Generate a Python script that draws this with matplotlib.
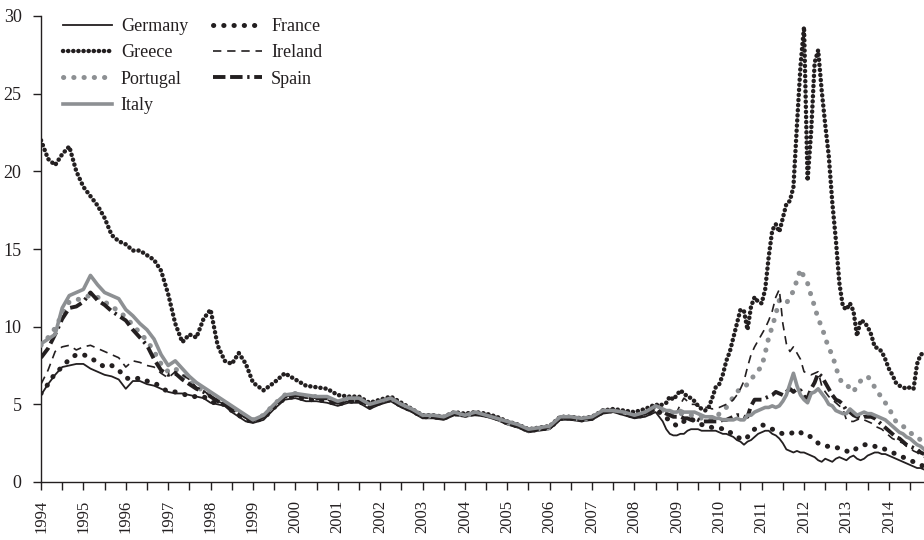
import numpy as np
import matplotlib
matplotlib.use('Agg')
import matplotlib.pyplot as plt
from matplotlib.ticker import MultipleLocator

# sample dates (decimal years): bimonthly 1994-1999, quarterly 1999-2008.5, monthly after
t_a = 1994 + np.arange(31) / 6.0
t_b = 1999.25 + np.arange(38) * 0.25
t_c = 2008.5 + np.arange(1, 77) / 12.0
years = np.concatenate([t_a, t_b, t_c])

# 10-year government bond yields, %
germany = [5.6, 6.3, 6.9, 7.4, 7.5, 7.6, 7.6, 7.3, 7.1, 6.9, 6.8, 6.6, 6.0, 6.5, 6.5, 6.3,
           6.2, 6.0, 5.8, 5.7, 5.7, 5.6, 5.5, 5.4, 5.1, 5.0, 4.9, 4.5, 4.2, 3.9, 3.8,
           4.0, 4.7, 5.3, 5.4, 5.2, 5.2, 5.1, 4.9, 5.1, 5.1, 4.7, 5.0, 5.2, 4.8, 4.5, 4.1,
           4.1, 4.0, 4.3, 4.2, 4.3, 4.2, 4.0, 3.7, 3.5, 3.2, 3.3, 3.4, 4.0, 4.0, 3.9, 4.0,
           4.4, 4.5, 4.3, 4.1, 4.2, 4.5,
           4.2, 3.9, 3.4, 3.1, 3.0, 3.0, 3.1, 3.1, 3.3, 3.4, 3.4, 3.4, 3.3, 3.3, 3.3, 3.3,
           3.3, 3.2, 3.1, 3.1, 3.0, 2.9, 2.7, 2.6, 2.4, 2.6, 2.7, 2.9, 3.1, 3.2, 3.3, 3.3,
           3.1, 3.0, 2.8, 2.5, 2.1, 2.0, 1.9, 2.0, 1.9, 1.9, 1.8, 1.7, 1.6, 1.4, 1.3, 1.5,
           1.4, 1.3, 1.5, 1.6, 1.5, 1.4, 1.6, 1.7, 1.5, 1.4, 1.5, 1.7, 1.8, 1.9, 1.9, 1.8,
           1.8, 1.7, 1.6, 1.5, 1.4, 1.3, 1.2, 1.1, 1.0, 0.9, 0.9, 0.8]

france = [5.7, 6.3, 7.0, 7.4, 7.9, 8.2, 8.2, 8.0, 7.7, 7.4, 7.5, 7.2, 6.7, 6.6, 6.7, 6.5,
          6.4, 6.1, 5.8, 5.8, 5.7, 5.5, 5.5, 5.5, 5.2, 5.0, 5.0, 4.6, 4.3, 4.0, 3.9,
          4.1, 4.8, 5.4, 5.5, 5.3, 5.3, 5.2, 5.0, 5.2, 5.2, 4.8, 5.1, 5.3, 4.9, 4.6, 4.2,
          4.2, 4.1, 4.4, 4.3, 4.4, 4.3, 4.1, 3.8, 3.6, 3.3, 3.4, 3.5, 4.1, 4.1, 4.0, 4.1,
          4.5, 4.6, 4.4, 4.2, 4.3, 4.6,
          4.5, 4.3, 4.1, 4.0, 3.8, 3.6, 3.8, 3.9, 4.0, 4.1, 3.9, 3.8, 3.7, 3.6, 3.6, 3.5,
          3.5, 3.5, 3.4, 3.4, 3.2, 3.1, 2.9, 2.8, 2.7, 2.9, 3.2, 3.4, 3.6, 3.7, 3.6, 3.5,
          3.4, 3.3, 3.2, 3.1, 3.1, 3.1, 3.2, 3.3, 3.2, 3.0, 3.0, 2.9, 2.7, 2.5, 2.4, 2.3,
          2.3, 2.3, 2.2, 2.2, 2.1, 2.0, 1.9, 2.0, 2.2, 2.3, 2.4, 2.4, 2.4, 2.3, 2.2, 2.2,
          2.1, 2.0, 1.9, 1.8, 1.7, 1.6, 1.5, 1.4, 1.3, 1.2, 1.1, 1.0]

greece = [22.0, 20.8, 20.4, 21.1, 21.6, 20.0, 19.0, 18.4, 17.8, 17.0, 15.9, 15.5, 15.3, 14.9,
          14.9, 14.6, 14.3, 13.6, 12.1, 10.2, 9.0, 9.5, 9.3, 10.5, 11.1, 8.8, 7.8, 7.6, 8.3,
          7.6, 6.4,
          5.9, 6.4, 7.0, 6.6, 6.2, 6.1, 6.0, 5.6, 5.5, 5.5, 5.1, 5.3, 5.5, 5.1, 4.7, 4.3,
          4.3, 4.2, 4.5, 4.4, 4.5, 4.4, 4.2, 3.9, 3.7, 3.4, 3.5, 3.6, 4.2, 4.2, 4.1, 4.2,
          4.6, 4.7, 4.6, 4.5, 4.7, 5.0,
          4.9, 5.0, 5.1, 5.5, 5.3, 5.6, 5.9, 5.7, 5.5, 5.4, 5.2, 4.9, 4.7, 4.6, 4.8, 5.4,
          6.1, 6.3, 6.9, 7.8, 8.4, 9.3, 10.2, 11.1, 11.0, 9.8, 11.3, 11.9, 11.6, 11.5, 12.4,
          14.5, 16.2, 16.6, 16.1, 17.0, 17.9, 18.1, 19.0, 23.0, 26.8, 29.3, 19.4, 22.5, 27.0,
          27.8, 25.2, 23.0, 21.0, 18.0, 15.6, 12.8, 11.3, 11.1, 11.5, 11.0, 9.4, 10.4, 10.3,
          10.0, 9.5, 8.7, 8.6, 8.4, 7.9, 7.3, 6.9, 6.4, 6.2, 6.1, 6.0, 6.1, 6.0, 7.6, 8.2, 8.3]

ireland = [6.3, 7.2, 8.4, 8.7, 8.8, 8.5, 8.7, 8.8, 8.6, 8.4, 8.2, 8.0, 7.4, 7.8, 7.7, 7.5,
           7.4, 7.0, 6.7, 7.1, 6.9, 6.6, 6.1, 5.9, 5.5, 5.2, 5.0, 4.6, 4.4, 4.1, 3.9,
           4.2, 4.9, 5.5, 5.6, 5.4, 5.4, 5.3, 5.0, 5.2, 5.2, 4.8, 5.1, 5.3, 4.9, 4.6, 4.2,
           4.2, 4.1, 4.4, 4.3, 4.4, 4.3, 4.1, 3.8, 3.6, 3.3, 3.4, 3.5, 4.1, 4.1, 4.0, 4.1,
           4.5, 4.6, 4.5, 4.3, 4.5, 4.8,
           4.8, 4.7, 4.6, 4.6, 4.5, 4.5, 5.0, 5.4, 5.2, 5.0, 5.0, 4.9, 4.8, 4.8, 4.8, 4.7,
           4.8, 4.8, 4.9, 5.0, 5.1, 5.3, 5.6, 6.0, 6.5, 7.4, 8.2, 8.7, 9.1, 9.5, 9.9, 10.4,
           11.0, 11.9, 12.4, 10.2, 8.9, 8.4, 8.7, 8.3, 7.9, 7.1, 7.0, 6.9, 7.0, 7.1, 6.2, 5.8,
           5.5, 5.3, 5.1, 4.9, 4.7, 4.0, 3.9, 3.9, 4.0, 4.1, 4.0, 3.9, 3.8, 3.6, 3.5, 3.4,
           3.2, 3.0, 2.8, 2.7, 2.6, 2.5, 2.3, 2.2, 2.0, 1.9, 1.7, 1.6]

portugal = [8.8, 9.3, 9.9, 10.8, 11.6, 11.7, 11.9, 12.0, 11.9, 11.6, 11.3, 11.0, 10.6, 10.1,
            9.6, 9.1, 8.4, 7.6, 7.1, 7.3, 6.9, 6.5, 6.1, 5.9, 5.6, 5.3, 5.1, 4.8, 4.5, 4.2,
            4.0,
            4.3, 5.0, 5.6, 5.7, 5.5, 5.5, 5.4, 5.1, 5.3, 5.3, 4.9, 5.2, 5.4, 5.0, 4.6, 4.3,
            4.2, 4.2, 4.4, 4.3, 4.4, 4.3, 4.1, 3.8, 3.6, 3.3, 3.4, 3.5, 4.1, 4.1, 4.0, 4.1,
            4.6, 4.6, 4.5, 4.3, 4.5, 4.8,
            4.7, 4.6, 4.5, 4.4, 4.3, 4.3, 4.4, 4.4, 4.3, 4.3, 4.3, 4.2, 4.1, 4.0, 4.0, 4.0,
            4.1, 4.4, 4.6, 4.8, 5.1, 5.5, 5.8, 6.0, 6.1, 6.3, 6.6, 6.9, 7.2, 7.4, 8.3, 9.3,
            10.0, 10.8, 11.7, 11.6, 11.5, 11.9, 12.3, 13.0, 13.7, 13.2, 12.8, 12.0, 11.3, 10.5,
            10.0, 9.3, 8.6, 8.2, 7.4, 6.7, 6.3, 6.2, 6.1, 5.8, 6.2, 6.5, 6.7, 6.8, 6.5, 6.1,
            5.7, 5.5, 5.1, 4.8, 4.3, 3.9, 3.8, 3.6, 3.4, 3.2, 3.0, 2.9, 2.7, 2.6]

spain = [8.0, 8.6, 9.5, 10.5, 11.2, 11.3, 11.6, 12.2, 11.7, 11.4, 11.0, 10.7, 10.4, 9.8,
         9.3, 8.8, 7.9, 7.2, 6.9, 7.0, 6.6, 6.3, 6.0, 5.8, 5.5, 5.2, 5.0, 4.7, 4.4, 4.2, 3.9,
         4.2, 4.9, 5.5, 5.6, 5.5, 5.4, 5.4, 5.1, 5.3, 5.3, 4.9, 5.1, 5.3, 4.9, 4.6, 4.2,
         4.2, 4.1, 4.4, 4.3, 4.4, 4.3, 4.1, 3.8, 3.6, 3.3, 3.4, 3.5, 4.1, 4.1, 4.0, 4.1,
         4.5, 4.6, 4.4, 4.2, 4.4, 4.7,
         4.6, 4.5, 4.4, 4.3, 4.2, 4.2, 4.2, 4.1, 4.1, 4.0, 4.1, 4.0, 3.9, 3.9, 3.9, 3.9,
         3.9, 3.9, 4.0, 4.0, 4.1, 4.2, 4.3, 4.3, 4.2, 4.2, 4.9, 5.3, 5.3, 5.3, 5.4, 5.5,
         5.6, 5.8, 5.7, 5.6, 5.8, 6.0, 5.8, 6.0, 5.9, 5.5, 5.4, 6.0, 6.4, 7.0, 6.8, 6.4,
         6.0, 5.6, 5.3, 5.2, 5.0, 4.6, 4.5, 4.3, 4.2, 4.1, 4.2, 4.2, 4.2, 4.1, 3.9, 3.7,
         3.5, 3.3, 3.1, 2.9, 2.8, 2.6, 2.4, 2.3, 2.2, 2.1, 1.9, 1.8]

italy = [8.9, 9.2, 9.5, 11.2, 12.0, 12.2, 12.4, 13.3, 12.7, 12.2, 12.0, 11.8, 11.1, 10.7,
         10.2, 9.8, 9.2, 8.2, 7.5, 7.8, 7.3, 6.8, 6.4, 6.1, 5.8, 5.5, 5.2, 4.9, 4.6, 4.3, 4.0,
         4.3, 5.0, 5.6, 5.7, 5.6, 5.5, 5.5, 5.2, 5.4, 5.4, 5.0, 5.2, 5.4, 5.0, 4.7, 4.3,
         4.3, 4.2, 4.5, 4.3, 4.5, 4.3, 4.1, 3.9, 3.7, 3.4, 3.5, 3.6, 4.2, 4.2, 4.1, 4.2,
         4.6, 4.6, 4.5, 4.3, 4.5, 4.9,
         4.8, 4.7, 4.6, 4.6, 4.5, 4.5, 4.6, 4.5, 4.5, 4.5, 4.5, 4.4, 4.3, 4.2, 4.2, 4.2,
         4.1, 4.1, 4.0, 4.0, 4.0, 4.0, 4.1, 4.0, 4.0, 4.3, 4.3, 4.5, 4.6, 4.7, 4.8, 4.8,
         4.9, 4.8, 4.9, 5.2, 5.6, 6.3, 7.0, 6.2, 5.6, 5.3, 5.1, 5.7, 5.8, 6.0, 5.7, 5.4,
         5.0, 4.9, 4.6, 4.5, 4.4, 4.4, 4.7, 4.5, 4.3, 4.4, 4.5, 4.4, 4.4, 4.3, 4.2, 4.1,
         4.0, 3.8, 3.6, 3.4, 3.2, 3.1, 2.9, 2.8, 2.6, 2.4, 2.3, 2.1]

year_labels = [str(y) for y in range(1994, 2015)]

ink = '#231f20'
grey = '#8d9093'

plt.rcParams['font.family'] = ['Liberation Serif', 'DejaVu Serif']
plt.rcParams['font.size'] = 13

fig = plt.figure(figsize=(9.24, 5.4), dpi=100)
ax = fig.add_axes([41/924, 1-482/540, 1-41/924, (482-16)/540])

ax.plot(years, germany, color=ink, lw=1.3, label='Germany', zorder=3)
ax.plot(years, greece, color=ink, lw=3.2, linestyle=(0, (0.05, 1.1)),
        dash_capstyle='round', label='Greece', zorder=4)
ax.plot(years, portugal, color=grey, lw=3.6, linestyle=(0, (0.05, 2.0)),
        dash_capstyle='round', label='Portugal', zorder=3)
ax.plot(years, italy, color=grey, lw=2.6, label='Italy', zorder=5)
ax.plot(years, france, color=ink, lw=3.6, linestyle=(0, (0.05, 2.0)),
        dash_capstyle='round', label='France', zorder=3)
ax.plot(years, ireland, color=ink, lw=1.2, linestyle=(0, (5, 3.5)), label='Ireland', zorder=3)
ax.plot(years, spain, color=ink, lw=2.8, linestyle=(0, (3.2, 1.2, 3.2, 1.2, 0.6, 1.2)),
        label='Spain', zorder=4)

ax.set_xlim(1994, 2014.83)
ax.set_ylim(0, 30)
ax.set_yticks(range(0, 31, 5))
ax.set_xticks(range(1994, 2015))
ax.set_xticklabels(year_labels, rotation=90, fontsize=12)
ax.xaxis.set_minor_locator(MultipleLocator(0.5))

for side in ['top', 'right']:
    ax.spines[side].set_visible(False)
for side in ['left', 'bottom']:
    ax.spines[side].set_color(ink)
    ax.spines[side].set_linewidth(1.0)
ax.tick_params(axis='both', which='both', direction='out', color=ink, labelcolor=ink, width=1.0)
ax.tick_params(axis='x', which='both', length=6, pad=7)
ax.tick_params(axis='y', length=6, pad=8)

leg = ax.legend(ncol=2, loc='upper left', bbox_to_anchor=(63/924, 1-18/540),
                bbox_transform=fig.transFigure, frameon=False, borderpad=0,
                borderaxespad=0, handlelength=2.7, handletextpad=0.5,
                columnspacing=1.4, labelspacing=0.52)
for txt in leg.get_texts():
    txt.set_color(ink)

fig.savefig('out.png', dpi=100)
